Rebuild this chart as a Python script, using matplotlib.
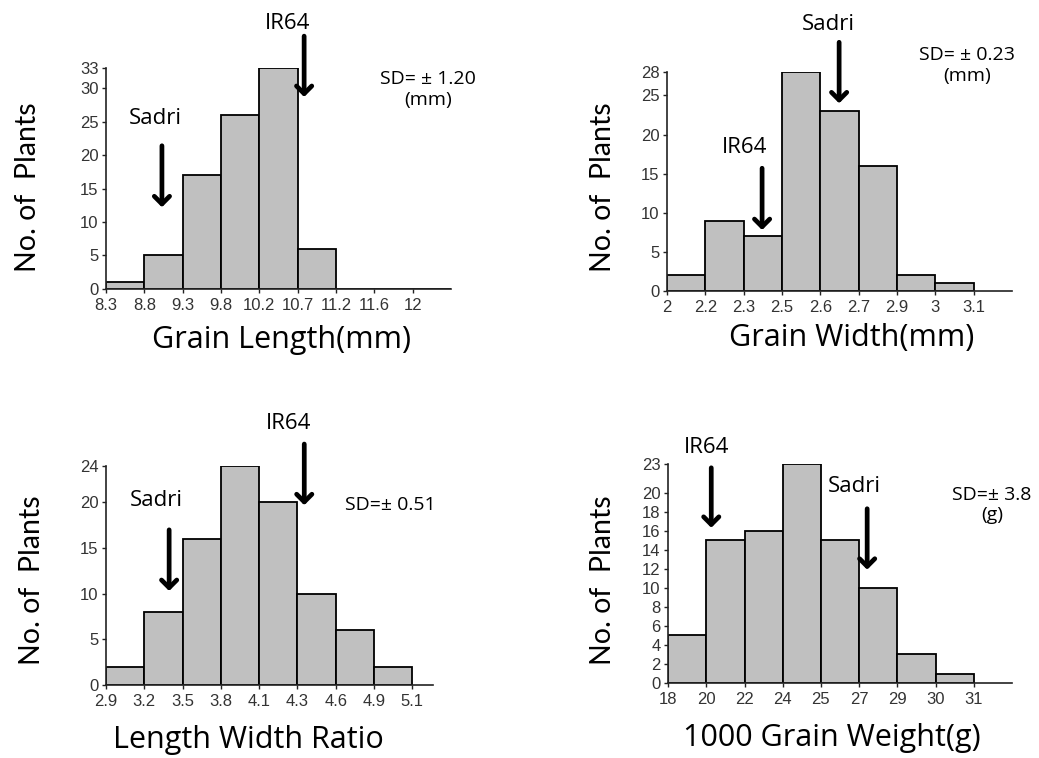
import matplotlib
matplotlib.use('Agg')
import matplotlib.pyplot as plt

# bin labels (left edge of each bin) and counts per panel
length_bins = ['8.3', '8.8', '9.3', '9.8', '10.2', '10.7', '11.2', '11.6', '12']
length_counts = [1, 5, 17, 26, 33, 6, 0, 0, 0]
length_yticks = [0, 5, 10, 15, 20, 25, 30, 33]

width_bins = ['2', '2.2', '2.3', '2.5', '2.6', '2.7', '2.9', '3', '3.1']
width_counts = [2, 9, 7, 28, 23, 16, 2, 1]
width_yticks = [0, 5, 10, 15, 20, 25, 28]

ratio_bins = ['2.9', '3.2', '3.5', '3.8', '4.1', '4.3', '4.6', '4.9', '5.1']
ratio_counts = [2, 8, 16, 24, 20, 10, 6, 2]
ratio_yticks = [0, 5, 10, 15, 20, 24]

weight_bins = ['18', '20', '22', '24', '25', '27', '29', '30', '31']
weight_counts = [5, 15, 16, 23, 15, 10, 3, 1]
weight_yticks = [0, 2, 4, 6, 8, 10, 12, 14, 16, 18, 20, 23]

BIG = 'Open Sans'
YLAB = 'Lato'
SMALL = 'Liberation Sans'
TXT = 'Open Sans'

fig = plt.figure(figsize=(10.39, 7.58), dpi=100)


def hist_panel(rect, bins, counts, yticks, xmax, xlabel, xlab_pos, ylab_pos):
    ax = fig.add_axes(rect)
    pos = list(range(len(counts)))
    ax.bar(pos, counts, width=1, align='edge', color='#c0c0c0',
           edgecolor='black', linewidth=1.3)
    ax.set_xlim(0, xmax)
    ax.set_ylim(0, yticks[-1])
    ax.set_xticks(range(len(bins)))
    ax.set_xticklabels(bins)
    ax.set_yticks(yticks)
    for s in ['top', 'right']:
        ax.spines[s].set_visible(False)
    for s in ['left', 'bottom']:
        ax.spines[s].set_color('#222222')
        ax.spines[s].set_linewidth(1.2)
    ax.tick_params(direction='out', length=3, width=1, color='#222222',
                   labelsize=12, labelcolor='#333333')
    ax.tick_params(axis='x', pad=3.5)
    ax.tick_params(axis='y', pad=2.5)
    for lb in ax.get_xticklabels() + ax.get_yticklabels():
        lb.set_family(SMALL)
    ax.set_xlabel(xlabel, family=BIG, fontsize=22, va='center')
    ax.xaxis.set_label_coords(*xlab_pos)
    ax.set_ylabel('No. of  Plants', family=YLAB, fontsize=20.5, va='center')
    ax.yaxis.set_label_coords(*ylab_pos)
    return ax


def mark(ax, name, tx, ty, ax_x, tail, head):
    ax.text(tx, ty, name, family=TXT, fontsize=16, ha='center', va='center',
            clip_on=False)
    ax.annotate('', xy=(ax_x, head), xytext=(ax_x, tail),
                arrowprops=dict(arrowstyle='->,head_length=0.55,head_width=0.55',
                                lw=3.4, color='black', shrinkA=0, shrinkB=0),
                annotation_clip=False)


# Grain length
ax1 = hist_panel([0.102, 0.619, 0.332, 0.291], length_bins, length_counts,
                 length_yticks, 9, 'Grain Length(mm)', (0.51, -0.23), (-0.226, 0.462))
mark(ax1, 'Sadri', 1.28, 25.5, 1.46, 21.4, 12.2)
mark(ax1, 'IR64', 4.75, 39.7, 5.17, 37.8, 28.7)
ax1.text(8.4, 29.8, 'SD= \u00b1 1.20\n(mm)', family=TXT, fontsize=14,
         ha='center', va='center', multialignment='center', clip_on=False)

# Grain width
ax2 = hist_panel([0.642, 0.616, 0.332, 0.289], width_bins, width_counts,
                 width_yticks, 9, 'Grain Width(mm)', (0.536, -0.215), (-0.186, 0.475))
mark(ax2, 'IR64', 2.03, 18.4, 2.48, 15.7, 7.8)
mark(ax2, 'Sadri', 4.2, 34.1, 4.49, 31.8, 24.0)
ax2.text(7.83, 28.8, 'SD= \u00b1 0.23\n(mm)', family=TXT, fontsize=14,
         ha='center', va='center', multialignment='center', clip_on=False)

# Length width ratio
ax3 = hist_panel([0.102, 0.0963, 0.315, 0.289], ratio_bins, ratio_counts,
                 ratio_yticks, 8.55, 'Length Width Ratio', (0.434, -0.251), (-0.226, 0.479))
mark(ax3, 'Sadri', 1.31, 20.2, 1.65, 17.0, 10.3)
mark(ax3, 'IR64', 4.76, 28.7, 5.18, 26.4, 19.7)
ax3.text(7.42, 19.7, 'SD=\u00b1 0.51', family=TXT, fontsize=14,
         ha='center', va='center', clip_on=False)

# 1000 grain weight
ax4 = hist_panel([0.643, 0.0989, 0.331, 0.289], weight_bins, weight_counts,
                 weight_yticks, 9, '1000 Grain Weight(g)', (0.477, -0.251), (-0.189, 0.47))
mark(ax4, 'IR64', 1.02, 24.7, 1.13, 22.6, 16.3)
mark(ax4, 'Sadri', 4.87, 20.6, 5.21, 18.3, 11.9)
ax4.text(8.48, 18.7, 'SD=\u00b1 3.8\n(g)', family=TXT, fontsize=14,
         ha='center', va='center', multialignment='center', clip_on=False)

fig.savefig('out.png', dpi=100)
